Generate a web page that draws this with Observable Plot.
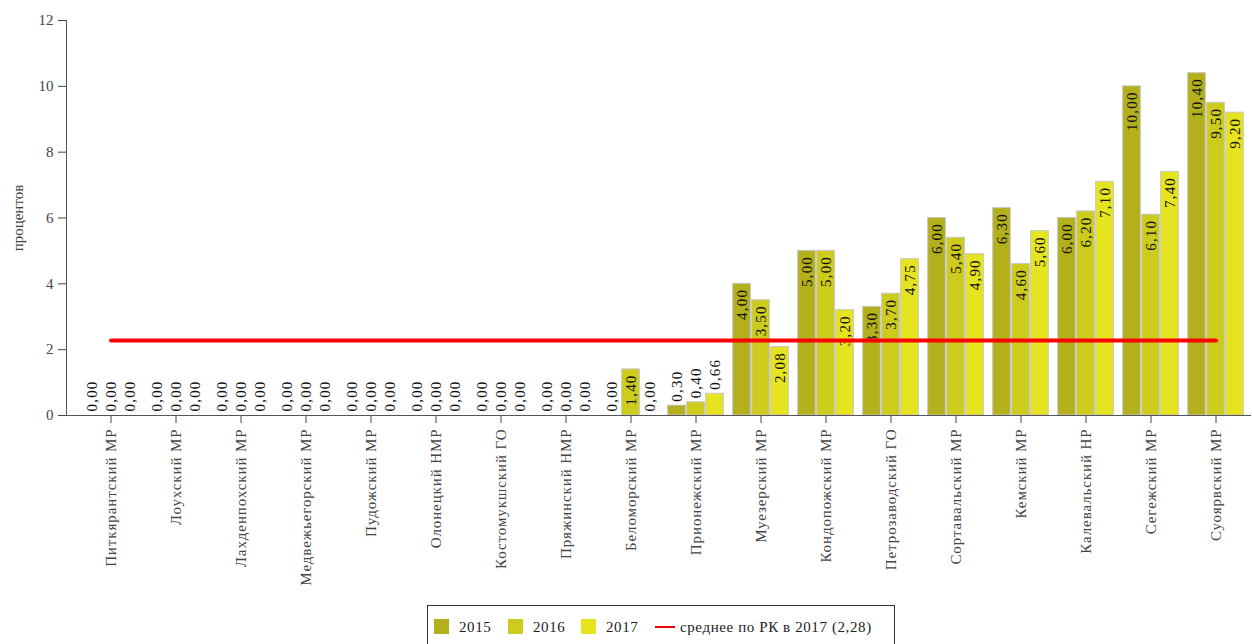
<!DOCTYPE html>
<html><head><meta charset="utf-8">
<script src="https://cdn.jsdelivr.net/npm/d3@7"></script>
<script src="https://cdn.jsdelivr.net/npm/@observablehq/plot@0.6"></script>
<style>
body{margin:0;background:#fff;font-family:"Liberation Serif",serif;}
#chart svg{display:block;}
g[aria-label="x-axis tick label"] text{letter-spacing:0.9px}
g[aria-label="text"] text{letter-spacing:1.2px}
.legend{position:absolute;left:427px;top:605px;width:468px;height:45px;border:1px solid #333;box-sizing:border-box;font-size:15px;color:#222;white-space:nowrap;}
.item{position:absolute;top:13px;line-height:16px;letter-spacing:0.6px}
.sw{display:inline-block;width:15px;height:15px;vertical-align:-2px;margin-right:10px}
.ln{display:inline-block;width:20px;height:2px;background:#e00;vertical-align:4px;margin-right:5px}
</style></head><body>
<div id="chart"></div>
<div class="legend" id="legend"></div>
<script>
const districts = ["Питкярантский МР","Лоухский МР","Лахденпохский МР","Медвежьегорский МР","Пудожский МР","Олонецкий НМР","Костомукшский ГО","Пряжинский НМР","Беломорский МР","Прионежский МР","Муезерский МР","Кондопожский МР","Петрозаводский ГО","Сортавальский МР","Кемский МР","Калевальский НР","Сегежский МР","Суоярвский МР"];
const years = ["2015","2016","2017"];
const values2015 = [0,0,0,0,0,0,0,0,0,0.30,4.00,5.00,3.30,6.00,6.30,6.00,10.00,10.40];
const values2016 = [0,0,0,0,0,0,0,0,1.40,0.40,3.50,5.00,3.70,5.40,4.60,6.20,6.10,9.50];
const values2017 = [0,0,0,0,0,0,0,0,0,0.66,2.08,3.20,4.75,4.90,5.60,7.10,7.40,9.20];
const average2017 = 2.28;
const averageLabel = "среднее по РК в 2017 (2,28)";
const yTicks = [0,2,4,6,8,10,12];
const colors = ["#b3b01b","#cdcb1b","#e6e41e"];

const series = [values2015, values2016, values2017];
const W = 1252, H = 600, ML = 66, MR = 1, INSET = 9;
const step = (W - ML - MR - INSET) / districts.length;
const barW = 18, pitch = 19;
const barInset = (step - barW) / 2;
const fmt = v => v.toFixed(2).replace(".", ",");

const marks = [];
series.forEach((vals, j) => {
  const data = districts.map((d, i) => ({district: d, value: vals[i]}));
  marks.push(Plot.barY(data, {x: "district", y: "value", fill: colors[j], stroke: "#c6c6c6", strokeWidth: 1,
    insetLeft: barInset, insetRight: barInset, dx: (j - 1) * pitch}));
});
series.forEach((vals, j) => {
  const data = districts.map((d, i) => ({district: d, value: vals[i]}));
  marks.push(Plot.text(data.filter(d => d.value >= 1), {x: "district", y: "value", text: d => fmt(d.value),
    rotate: -90, textAnchor: "end", lineAnchor: "middle", dx: (j - 1) * pitch, dy: 5, fill: "#111", fontSize: 15}));
  marks.push(Plot.text(data.filter(d => d.value < 1), {x: "district", y: "value", text: d => fmt(d.value),
    rotate: -90, textAnchor: "start", lineAnchor: "middle", dx: (j - 1) * pitch, dy: -4, fill: "#111", fontSize: 15}));
});
marks.push(Plot.lineY([districts[0], districts[districts.length - 1]].map(d => ({district: d, value: average2017})),
  {x: "district", y: "value", stroke: "#ff0000", strokeWidth: 4}));
marks.push(Plot.axisY({ticks: yTicks, tickSize: 8, tickPadding: 5, label: "процентов", labelAnchor: "center", labelArrow: "none", labelOffset: 54, fontSize: 15}));
marks.push(Plot.axisX({tickRotate: -90, tickSize: 8, tickPadding: 5, label: null, fontSize: 15}));
marks.push(Plot.ruleY([0], {stroke: "#555"}));
marks.push(Plot.frame({anchor: "left", stroke: "#555"}));

const chart = Plot.plot({
  width: W, height: H, marginLeft: ML, marginRight: MR, marginTop: 20, marginBottom: H - 415,
  style: {fontFamily: "Liberation Serif, serif", fontSize: "15px", color: "#444", background: "#fff"},
  x: {domain: districts, padding: 0, insetLeft: INSET, label: null, axis: null},
  y: {domain: [0, 12], label: null, axis: null},
  marks
});
document.getElementById("chart").appendChild(chart);

const legend = document.getElementById("legend");
const lx = [6, 80, 153];
years.forEach((y, j) => {
  const it = document.createElement("div");
  it.className = "item"; it.style.left = lx[j] + "px";
  it.innerHTML = `<span class="sw" style="background:${colors[j]}"></span>${y}`;
  legend.appendChild(it);
});
const it = document.createElement("div");
it.className = "item"; it.style.left = "227px";
it.innerHTML = `<span class="ln"></span>${averageLabel}`;
legend.appendChild(it);
</script>
</body></html>
